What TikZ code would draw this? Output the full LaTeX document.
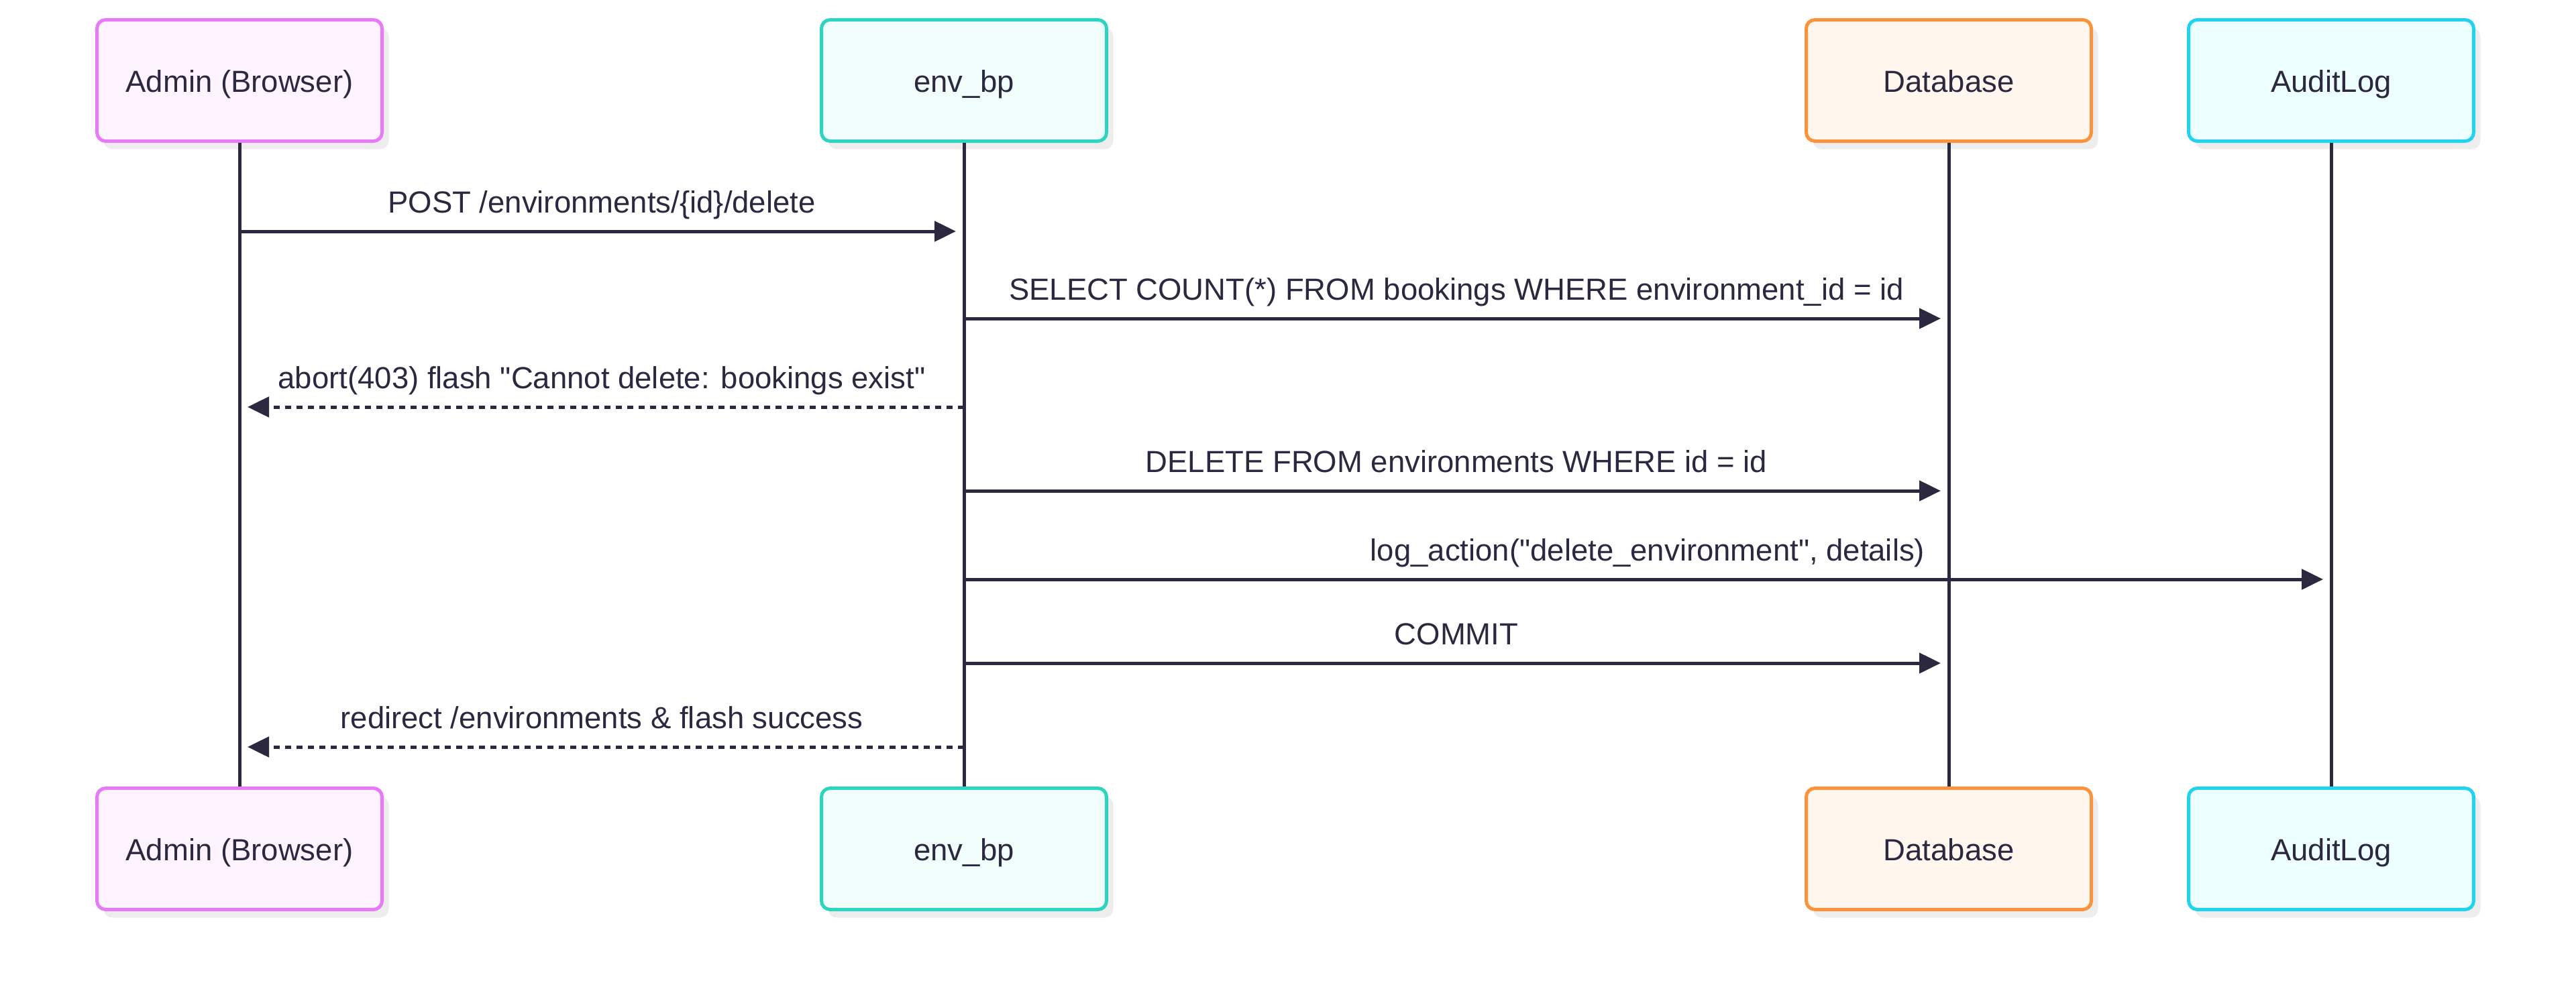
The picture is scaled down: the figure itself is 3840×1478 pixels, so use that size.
\documentclass[tikz,border=0pt]{standalone}
\usepackage{fontspec}
\setmainfont{Liberation Sans}[Ligatures=TeXOff]
\usetikzlibrary{arrows.meta,shadows}
\definecolor{ink}{HTML}{2B2840}
\definecolor{adminB}{HTML}{E879F9}\definecolor{adminF}{HTML}{FDF4FF}
\definecolor{envB}{HTML}{2DD4BF}\definecolor{envF}{HTML}{F0FDFA}
\definecolor{dbB}{HTML}{FB923C}\definecolor{dbF}{HTML}{FFF7ED}
\definecolor{audB}{HTML}{22D3EE}\definecolor{audF}{HTML}{ECFEFF}
\tikzset{
  actor/.style={draw=#1B, fill=#1F, line width=2.5pt, rounded corners=6.5pt,
    minimum width=212.5pt, minimum height=90.5pt, inner sep=0pt,
    text height=17pt, text depth=0pt,
    font=\fontsize{22.75}{26}\selectfont, text=ink,
    drop shadow={shadow xshift=5pt, shadow yshift=-6pt, fill=black, opacity=0.07}},
  lifeline/.style={draw=ink, line width=2.5pt},
  msg/.style={draw=ink, line width=2.5pt, -{Triangle[length=16pt,width=15pt]}, shorten >=6pt},
  reply/.style={msg, dash pattern=on 4.5pt off 4pt},
  lbl/.style={midway, anchor=base, yshift=14pt, font=\fontsize{22.75}{26}\selectfont, text=ink, inner sep=0pt},
}
\begin{document}
\begin{tikzpicture}[x=0.5pt, y=-0.5pt]
\useasboundingbox (0,0) rectangle (3840,1478);
% top actors
\node[actor=admin] (adminT) at (357,120) {Admin (Browser)};
\node[actor=env]   (envT)   at (1437,120) {env\_bp};
\node[actor=db]    (dbT)    at (2905,120) {Database};
\node[actor=aud]   (audT)   at (3475,120) {AuditLog};
% bottom actors
\node[actor=admin] (adminB) at (357,1266) {Admin (Browser)};
\node[actor=env]   (envB)   at (1437,1266) {env\_bp};
\node[actor=db]    (dbB)    at (2905,1266) {Database};
\node[actor=aud]   (audB)   at (3475,1266) {AuditLog};
% lifelines
\draw[lifeline] (adminT.south) -- (adminB.north);
\draw[lifeline] (envT.south) -- (envB.north);
\draw[lifeline] (dbT.south) -- (dbB.north);
\draw[lifeline] (audT.south) -- (audB.north);
% message endpoints
\coordinate (m1s) at (adminT |- 0,345);
\coordinate (m1e) at (envT |- 0,345);
\coordinate (m2s) at (envT |- 0,475);
\coordinate (m2e) at (dbT |- 0,475);
\coordinate (m3s) at (envT |- 0,607);
\coordinate (m3e) at (adminT |- 0,607);
\coordinate (m4s) at (envT |- 0,732);
\coordinate (m4e) at (dbT |- 0,732);
\coordinate (m5s) at (envT |- 0,864);
\coordinate (m5e) at (audT |- 0,864);
\coordinate (m6s) at (envT |- 0,989);
\coordinate (m6e) at (dbT |- 0,989);
\coordinate (m7s) at (envT |- 0,1114);
\coordinate (m7e) at (adminT |- 0,1114);
% messages
\draw[msg] (m1s) -- (m1e) node[lbl] {POST /environments/\{id\}/delete};
\draw[msg] (m2s) -- (m2e) node[lbl] {SELECT COUNT(*) FROM bookings WHERE environment\_id = id};
\draw[reply] (m3s) -- (m3e) node[lbl] {abort(403) flash "Cannot delete: bookings exist"};
\draw[msg] (m4s) -- (m4e) node[lbl] {DELETE FROM environments WHERE id = id};
\draw[msg] (m5s) -- (m5e) node[lbl] {log\_action("delete\_environment", details)};
\draw[msg] (m6s) -- (m6e) node[lbl] {COMMIT};
\draw[reply] (m7s) -- (m7e) node[lbl] {redirect /environments \& flash success};
\end{tikzpicture}
\end{document}
